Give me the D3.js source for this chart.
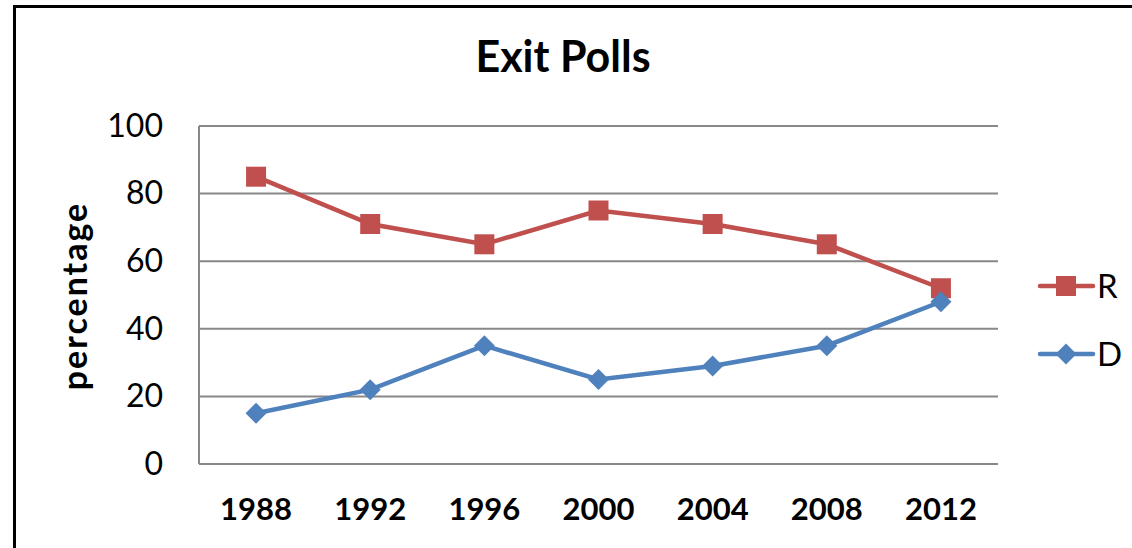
<!DOCTYPE html>
<html>
<head>
<meta charset="utf-8">
<script src="https://cdn.jsdelivr.net/npm/d3@7"></script>
<style>
  body { margin: 0; background: #fff; }
  text { font-family: Lato, "Open Sans", sans-serif; fill: #000; }
</style>
</head>
<body>
<div class="chart"></div>
<script>
// Exit Polls line chart

var years = ["1988", "1992", "1996", "2000", "2004", "2008", "2012"];
var rValues = [85, 71, 65, 75, 71, 65, 52];
var dValues = [15, 22, 35, 25, 29, 35, 48];
var yTicks = [0, 20, 40, 60, 80, 100];

var svgWidth = 1132;
var svgHeight = 548;

var margin = { top: 126, right: 134, bottom: 84, left: 199 };
var width = svgWidth - margin.left - margin.right;
var height = svgHeight - margin.top - margin.bottom;

var svg = d3.select(".chart")
  .append("svg")
  .attr("width", svgWidth)
  .attr("height", svgHeight);

// outer chart border
svg.append("rect")
  .attr("x", 14.5)
  .attr("y", 6.5)
  .attr("width", 1140)
  .attr("height", 560)
  .attr("fill", "none")
  .attr("stroke", "#000")
  .attr("stroke-width", 3);

svg.append("text")
  .attr("x", 563)
  .attr("y", 72)
  .attr("text-anchor", "middle")
  .attr("font-size", 43)
  .attr("font-weight", "bold")
  .text("Exit Polls");

var chartGroup = svg.append("g")
  .attr("transform", `translate(${margin.left}, ${margin.top})`);

var xScale = d3.scaleBand()
  .domain(years)
  .range([0, width]);

var yScale = d3.scaleLinear()
  .domain([0, 100])
  .range([height, 0]);

// gridlines
chartGroup.selectAll(".grid")
  .data(yTicks)
  .enter()
  .append("line")
  .attr("x1", 0)
  .attr("x2", width)
  .attr("y1", d => yScale(d))
  .attr("y2", d => yScale(d))
  .attr("stroke", "#888")
  .attr("stroke-width", 2);

chartGroup.append("line")
  .attr("x1", 0).attr("x2", 0)
  .attr("y1", 0).attr("y2", height)
  .attr("stroke", "#888")
  .attr("stroke-width", 2);

// y axis labels
var leftAxis = d3.axisLeft(yScale).tickValues(yTicks).tickSize(0).tickPadding(36);
var yAxisG = chartGroup.append("g").call(leftAxis);
yAxisG.select(".domain").remove();
yAxisG.selectAll("text")
  .attr("font-size", 32)
  .attr("font-family", "Lato, 'Open Sans', sans-serif")
  .attr("fill", "#000");

// x axis labels
var bottomAxis = d3.axisBottom(xScale).tickSize(0).tickPadding(34);
var xAxisG = chartGroup.append("g")
  .attr("transform", `translate(0, ${height})`)
  .call(bottomAxis);
xAxisG.select(".domain").remove();
xAxisG.selectAll("text")
  .attr("font-size", 31)
  .attr("font-weight", "bold")
  .attr("font-family", "Lato, 'Open Sans', sans-serif")
  .attr("fill", "#000");

// y axis title
svg.append("text")
  .attr("transform", "translate(87, 296) rotate(-90)")
  .attr("text-anchor", "middle")
  .attr("font-size", 34)
  .attr("font-weight", "bold")
  .attr("letter-spacing", 2)
  .text("percentage");

var xMid = d => xScale(d) + xScale.bandwidth() / 2;

var line = d3.line()
  .x(d => xMid(d.year))
  .y(d => yScale(d.value));

// marker shapes: 20px square, 21px diamond
var square = "M-10,-10H10V10H-10Z";
var diamond = "M0,-10.5L10.5,0L0,10.5L-10.5,0Z";

var series = [
  { name: "R", color: "#C0504D", values: rValues, marker: square },
  { name: "D", color: "#4F81BD", values: dValues, marker: diamond }
];

series.forEach(function(s) {
  var pts = years.map((y, i) => ({ year: y, value: s.values[i] }));
  chartGroup.append("path")
    .datum(pts)
    .attr("d", line)
    .attr("fill", "none")
    .attr("stroke", s.color)
    .attr("stroke-width", 4.5);

  chartGroup.selectAll(null)
    .data(pts)
    .enter()
    .append("path")
    .attr("d", s.marker)
    .attr("transform", d => `translate(${xMid(d.year)}, ${yScale(d.value)})`)
    .attr("fill", s.color);
});

// legend
var legend = svg.append("g");
series.forEach(function(s, i) {
  var ly = 286 + i * 68;
  legend.append("line")
    .attr("x1", 1040).attr("x2", 1093)
    .attr("y1", ly).attr("y2", ly)
    .attr("stroke", s.color)
    .attr("stroke-width", 4.5)
    .attr("stroke-linecap", "round");
  legend.append("path")
    .attr("d", s.marker)
    .attr("transform", `translate(1066, ${ly})`)
    .attr("fill", s.color);
  legend.append("text")
    .attr("x", 1097)
    .attr("y", ly + 12)
    .attr("font-size", 33)
    .text(s.name);
});
</script>
</body>
</html>
